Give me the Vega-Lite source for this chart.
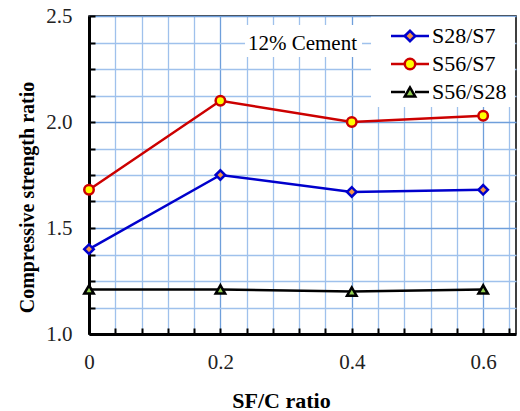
{
  "$schema": "https://vega.github.io/schema/vega-lite/v6.json",
  "width": 427,
  "height": 318,
  "autosize": "none",
  "padding": {"left": 89, "top": 16, "right": 4, "bottom": 77},
  "config": {
    "view": {"stroke": "#000000", "strokeWidth": 1.5},
    "font": "Liberation Serif, Times New Roman, DejaVu Serif, serif",
    "axis": {
      "labelFont": "Liberation Serif, Times New Roman, DejaVu Serif, serif",
      "titleFont": "Liberation Serif, Times New Roman, DejaVu Serif, serif",
      "labelColor": "#222222",
      "titleColor": "#000000",
      "labelFontSize": 21,
      "titleFontSize": 21,
      "titleFontWeight": "bold",
      "domainColor": "#000000",
      "domainWidth": 3,
      "tickColor": "#000000",
      "tickWidth": 2,
      "tickSize": -6,
      "gridWidth": 1.3,
      "labelOverlap": false,
      "labelBound": false,
      "labelFlush": false,
      "zindex": 0
    },
    "legend": {
      "labelFont": "Liberation Serif, Times New Roman, DejaVu Serif, serif",
      "labelFontSize": 22,
      "labelColor": "#000000",
      "symbolStrokeWidth": 2.5,
      "rowPadding": 6,
      "padding": 7,
      "title": null
    }
  },
  "datasets": {
    "ratios": [
      {"sfc": 0, "series": "S28/S7", "ratio": 1.40},
      {"sfc": 0.2, "series": "S28/S7", "ratio": 1.75},
      {"sfc": 0.4, "series": "S28/S7", "ratio": 1.67},
      {"sfc": 0.6, "series": "S28/S7", "ratio": 1.68},
      {"sfc": 0, "series": "S56/S7", "ratio": 1.68},
      {"sfc": 0.2, "series": "S56/S7", "ratio": 2.10},
      {"sfc": 0.4, "series": "S56/S7", "ratio": 2.00},
      {"sfc": 0.6, "series": "S56/S7", "ratio": 2.03},
      {"sfc": 0, "series": "S56/S28", "ratio": 1.21},
      {"sfc": 0.2, "series": "S56/S28", "ratio": 1.21},
      {"sfc": 0.4, "series": "S56/S28", "ratio": 1.20},
      {"sfc": 0.6, "series": "S56/S28", "ratio": 1.21}
    ],
    "notes": [{"note": "12% Cement"}]
  },
  "layer": [
    {
      "data": {"name": "notes"},
      "mark": {"type": "rect", "fill": "#ffffff", "stroke": null},
      "encoding": {
        "x": {"datum": 0.2375, "type": "quantitative", "scale": {"domain": [0, 0.65], "nice": false, "zero": false},
          "axis": {
            "title": "SF/C ratio",
            "values": [0, 0.04, 0.08, 0.12, 0.16, 0.2, 0.24, 0.28, 0.32, 0.36, 0.4, 0.44, 0.48, 0.52, 0.56, 0.6, 0.64],
            "tickCount": 100,
            "labelExpr": "abs(datum.value*5 - round(datum.value*5)) < 0.000001 ? format(datum.value, '~g') : ''",
            "labelOverlap": false,
            "labelPadding": 23,
            "grid": true,
            "gridColor": {"condition": {"test": "abs(datum.value*5 - round(datum.value*5)) < 0.000001 && datum.value > 0", "value": "#6f9fdb"}, "value": "#9fc1ec"},
            "titleX": 192,
            "titleY": 73,
            "titleBaseline": "alphabetic",
            "titleFontSize": 22
          }},
        "x2": {"datum": 0.4156},
        "y": {"datum": 2.457, "type": "quantitative", "scale": {"domain": [1, 2.5], "nice": false, "zero": false},
          "axis": {
            "title": "Compressive strength ratio",
            "values": [1, 1.125, 1.25, 1.375, 1.5, 1.625, 1.75, 1.875, 2, 2.125, 2.25, 2.375, 2.5],
            "tickCount": 100,
            "labelExpr": "datum.value % 0.5 === 0 ? format(datum.value, '.1f') : ''",
            "labelOverlap": false,
            "labelPadding": 23,
            "grid": true,
            "gridColor": {"condition": {"test": "datum.value % 0.5 === 0 && datum.value > 1", "value": "#6f9fdb"}, "value": "#9fc1ec"},
            "titleX": -52,
            "titleY": 181,
            "titleBaseline": "bottom",
            "titleFontSize": 20
          }},
        "y2": {"datum": 2.307}
      }
    },
    {
      "data": {"name": "notes"},
      "mark": {"type": "text", "font": "Liberation Serif, Times New Roman, DejaVu Serif, serif", "fontSize": 21, "color": "#000000", "align": "center", "baseline": "alphabetic"},
      "encoding": {
        "x": {"datum": 0.325, "type": "quantitative"},
        "y": {"datum": 2.34, "type": "quantitative"},
        "text": {"field": "note"}
      }
    },
    {
      "data": {"name": "notes"},
      "mark": {"type": "rect", "fill": "#ffffff", "stroke": null},
      "encoding": {
        "x": {"datum": 0.4293, "type": "quantitative"},
        "x2": {"datum": 0.6483},
        "y": {"datum": 2.4962, "type": "quantitative"},
        "y2": {"datum": 2.071}
      }
    },
    {
      "data": {"name": "ratios"},
      "mark": {"type": "line", "strokeWidth": 2.5},
      "encoding": {
        "x": {"field": "sfc", "type": "quantitative"},
        "y": {"field": "ratio", "type": "quantitative"},
        "color": {
          "field": "series", "type": "nominal",
          "scale": {"domain": ["S28/S7", "S56/S7", "S56/S28"], "range": ["#0000cc", "#cc0000", "#000000"]},
          "legend": {
            "orient": "none",
            "legendX": 303,
            "legendY": 2,
            "symbolType": "M-3.8,0L-1,0M1,0L3.8,0",
            "symbolSize": 100,
            "symbolOffset": 0,
            "labelExpr": "''"
          }
        }
      }
    },
    {
      "data": {"name": "ratios"},
      "mark": {"type": "point", "filled": false, "size": 90, "strokeWidth": 2.5, "opacity": 1},
      "encoding": {
        "x": {"field": "sfc", "type": "quantitative"},
        "y": {"field": "ratio", "type": "quantitative"},
        "shape": {"field": "series", "type": "nominal", "scale": {"domain": ["S28/S7", "S56/S7", "S56/S28"], "range": ["diamond", "circle", "triangle-up"]},
          "legend": {
            "orient": "top-right",
            "offset": 2,
            "symbolSize": 110,
            "symbolOffset": 0,
            "labelOffset": 11
          }},
        "fill": {"field": "series", "type": "nominal", "scale": {"domain": ["S28/S7", "S56/S7", "S56/S28"], "range": ["#f79646", "#ffff00", "#92d050"]}, "legend": {}},
        "stroke": {"field": "series", "type": "nominal", "scale": {"domain": ["S28/S7", "S56/S7", "S56/S28"], "range": ["#0000cc", "#cc0000", "#000000"]}, "legend": {}}
      }
    }
  ]
}
